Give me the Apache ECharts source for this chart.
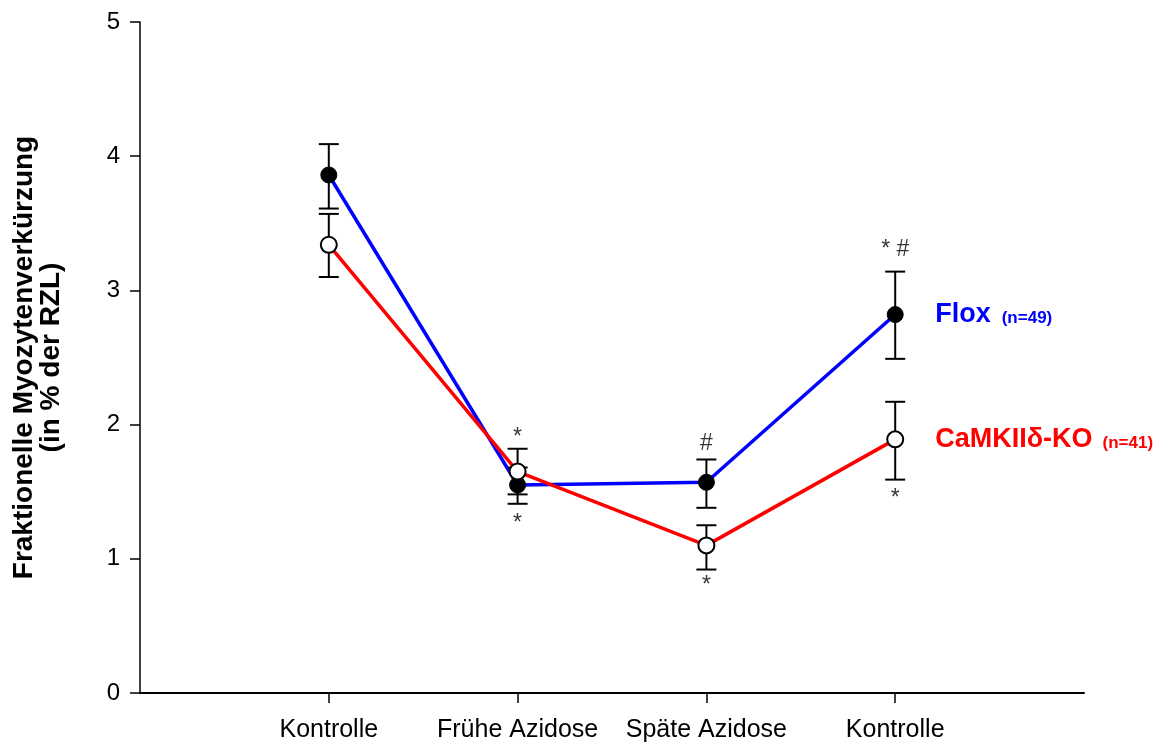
<!DOCTYPE html>
<html><head><meta charset="utf-8">
<script src="https://cdn.jsdelivr.net/npm/echarts@6/dist/echarts.min.js"></script>
<style>html,body{margin:0;padding:0;background:#fff}#c{width:1167px;height:742px}</style>
</head><body><div id="c"></div>
<script>
const categories = ['Kontrolle', 'Frühe Azidose', 'Späte Azidose', 'Kontrolle'];
const yTicks = [0, 1, 2, 3, 4, 5];
const floxMean = [3.86, 1.55, 1.57, 2.82];
const floxLow  = [3.61, 1.41, 1.38, 2.49];
const floxHigh = [4.09, 1.68, 1.74, 3.14];
const koMean = [3.34, 1.65, 1.10, 1.89];
const koLow  = [3.10, 1.48, 0.92, 1.59];
const koHigh = [3.57, 1.82, 1.25, 2.17];
// significance annotations: [category index (1-based), y position, text]
const annotations = [
  [2, 1.90, '*'], [2, 1.26, '*'],
  [3, 1.86, '#'], [3, 0.80, '*'],
  [4, 3.30, '* #'], [4, 1.45, '*']
];
const floxName = 'Flox', floxN = '(n=49)';
const koName = 'CaMKIIδ-KO', koN = '(n=41)';

const FONT = 'Liberation Sans, Arial, sans-serif';
const pts = (m) => m.map((v, i) => [i + 1, v]);
const errData = (lo, hi) => lo.map((v, i) => [i + 1, v, hi[i]]);

function errRender(params, api) {
  const x = api.value(0);
  const lo = api.coord([x, api.value(1)]);
  const hi = api.coord([x, api.value(2)]);
  const hw = 10;
  const st = { stroke: '#000', lineWidth: 2 };
  return {
    type: 'group',
    children: [
      { type: 'line', shape: { x1: lo[0], y1: lo[1], x2: hi[0], y2: hi[1] }, style: st },
      { type: 'line', shape: { x1: lo[0] - hw, y1: lo[1], x2: lo[0] + hw, y2: lo[1] }, style: st },
      { type: 'line', shape: { x1: hi[0] - hw, y1: hi[1], x2: hi[0] + hw, y2: hi[1] }, style: st }
    ]
  };
}

const chart = echarts.init(document.getElementById('c'));
chart.setOption({
  animation: false,
  backgroundColor: '#fff',
  grid: { left: 140, right: 83, top: 22, bottom: 49, containLabel: false, outerBoundsMode: 'none' },
  xAxis: {
    type: 'value', min: 0, max: 5, interval: 1,
    splitLine: { show: false },
    axisLine: { lineStyle: { color: '#000', width: 2 } },
    axisTick: { customValues: [1, 2, 3, 4], length: 10, lineStyle: { color: '#000', width: 1.5 } },
    axisLabel: {
      customValues: [1, 2, 3, 4], margin: 25, color: '#000', fontSize: 25, fontFamily: FONT,
      formatter: (v) => categories[Math.round(v) - 1] || ''
    }
  },
  yAxis: {
    type: 'value', min: yTicks[0], max: yTicks[yTicks.length - 1], interval: 1,
    splitLine: { show: false },
    axisLine: { show: true, lineStyle: { color: '#000', width: 1.5 } },
    axisTick: { show: true, length: 10, lineStyle: { color: '#000', width: 1.5 } },
    axisLabel: { margin: 20, color: '#000', fontSize: 24, fontFamily: FONT },
    name: 'Fraktionelle Myozytenverkürzung\n(in % der RZL)',
    nameLocation: 'middle', nameRotate: 90, nameGap: 75,
    nameTextStyle: { color: '#000', fontSize: 28, fontWeight: 'bold', fontFamily: FONT, lineHeight: 27 }
  },
  series: [
    {
      type: 'line', data: pts(floxMean), showSymbol: false, z: 2,
      lineStyle: { color: '#0000ff', width: 3.5 },
      endLabel: {
        show: true, distance: 40,
        formatter: () => '{a|' + floxName + '}{b|' + floxN + '}',
        rich: {
          a: { color: '#0000ff', fontSize: 27, fontWeight: 'bold', fontFamily: FONT, padding: [0, 11, 0, 0] },
          b: { color: '#0000ff', fontSize: 17, fontWeight: 'bold', fontFamily: FONT, padding: [7, 0, 0, 0] }
        }
      }
    },
    {
      type: 'line', data: pts(koMean), showSymbol: false, z: 3,
      lineStyle: { color: '#ff0000', width: 3.5 },
      endLabel: {
        show: true, distance: 40,
        formatter: () => '{a|' + koName + '}{b|' + koN + '}',
        rich: {
          a: { color: '#ff0000', fontSize: 27, fontWeight: 'bold', fontFamily: FONT, padding: [0, 10, 0, 0] },
          b: { color: '#ff0000', fontSize: 17, fontWeight: 'bold', fontFamily: FONT, padding: [7, 0, 0, 0] }
        }
      }
    },
    { type: 'custom', data: errData(floxLow, floxHigh), renderItem: errRender, z: 4 },
    { type: 'custom', data: errData(koLow, koHigh), renderItem: errRender, z: 4 },
    {
      type: 'scatter', data: pts(floxMean), symbol: 'circle', symbolSize: 16, z: 6,
      itemStyle: { color: '#000', borderColor: '#000', borderWidth: 1, opacity: 1 }
    },
    {
      type: 'scatter', data: pts(koMean), symbol: 'circle', symbolSize: 16, z: 6,
      itemStyle: { color: '#fff', borderColor: '#000', borderWidth: 2, opacity: 1 }
    },
    {
      type: 'scatter', data: annotations, symbolSize: 0, z: 7, silent: true,
      label: {
        show: true, position: 'inside', color: '#000', fontSize: 23, fontFamily: FONT,
        formatter: (p) => p.data[2]
      }
    }
  ]
});
</script></body></html>
